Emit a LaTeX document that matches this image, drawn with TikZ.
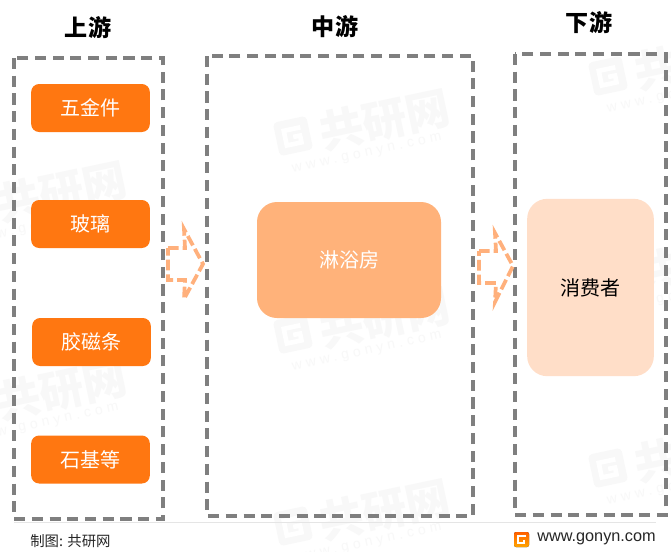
\documentclass[tikz,border=0pt]{standalone}
\usepackage{fontspec}
\setmainfont{Noto Sans CJK SC}
\newfontfamily\latinfont{Liberation Sans}
\newfontfamily\wmlatin[LetterSpace=30]{Liberation Sans}
\definecolor{dashgray}{HTML}{7F7F7F}
\definecolor{itemorange}{HTML}{FF7711}
\definecolor{midorange}{HTML}{FFB27A}
\definecolor{lightorange}{HTML}{FFDEC8}
\definecolor{arrowline}{HTML}{FFB07C}
\definecolor{wm}{HTML}{F8F8F8}
\tikzset{
  x=0.75pt,y=-0.75pt,
  stagebox/.style={draw=dashgray,line width=2.5pt,dash pattern=on 8.3pt off 5pt,fill=none},
  stagetitle/.style={font=\fontsize{17.3pt}{19pt}\selectfont\bfseries,text=black,inner sep=0pt},
  itembox/.style={fill=itemorange,rounded corners=6pt,minimum width=89pt,minimum height=36pt,inner sep=0pt,text=white,font=\fontsize{15pt}{17pt}\selectfont},
  flowarrow/.style={draw=arrowline,line width=2.8pt,dash pattern=on 8pt off 3pt,line join=miter,fill=none},
  wmmark/.style={text=wm,rotate=12,inner sep=0pt,font=\fontsize{33pt}{35pt}\selectfont\bfseries},
  wmurl/.style={text=wm,rotate=12,inner sep=0pt,font=\fontsize{10.5pt}{12pt}\selectfont\wmlatin},
}
\newcommand{\wmgroup}[3]{%
  \node[wmmark] (#3a) at (#1,#2) {共研网};
  \node[wmurl] (#3b) at (#1-18,#2+34) {www.gonyn.com};
  \fill[wm,rounded corners=3pt,shift={(#1-92,#2+16)},rotate=12] (-17,-17) rectangle (17,17);
  \draw[white,line width=3.5pt,shift={(#1-92,#2+16)},rotate=12] (9,-7) -- (-8,-7) -- (-8,8) -- (7,8) -- (7,1) -- (0,1);
}
\begin{document}
\begin{tikzpicture}
\useasboundingbox (0,0) rectangle (671,551);
\fill[white] (0,0) rectangle (671,551);
% watermarks
\wmgroup{385}{120}{wA}
\wmgroup{62}{192}{wB}
\wmgroup{385}{318}{wC}
\wmgroup{62}{390}{wD}
\wmgroup{385}{510}{wE}
\wmgroup{700}{60}{wF}
\wmgroup{700}{262}{wG}
\wmgroup{700}{452}{wH}
% stage frames
\draw[stagebox] (14,58) rectangle (163,519);
\draw[stagebox] (207,56) rectangle (473,516);
\draw[stagebox] (515,54) rectangle (666,515);
% titles
\node[stagetitle] (t1) at (88,28) {上游};
\node[stagetitle] (t2) at (335,27) {中游};
\node[stagetitle] (t3) at (589,23) {下游};
% items
\node[itembox] (i1) at (90.5,108) {五金件};
\node[itembox] (i2) at (90.5,224) {玻璃};
\node[itembox] (i3) at (91.5,342) {胶磁条};
\node[itembox] (i4) at (90.5,459.5) {石基等};
% middle and end
\node[fill=midorange,rounded corners=15pt,minimum width=138pt,minimum height=87pt,inner sep=0pt,text=white,font=\fontsize{15pt}{17pt}\selectfont] (m) at (349,260) {淋浴房};
\node[fill=lightorange,rounded corners=15pt,minimum width=95pt,minimum height=133pt,inner sep=0pt,text=black,font=\fontsize{15pt}{17pt}\selectfont] (e) at (590.5,287.5) {消费者};
% block arrows
\draw[flowarrow] (168,248) -- (185,248) -- (184,229) -- (203,264) -- (184,299) -- (185,280) -- (168,280) -- cycle;
\draw[flowarrow] (479,251) -- (496,251) -- (495,233) -- (513,266) -- (495,302) -- (496,283) -- (479,283) -- cycle;
% footer
\coordinate (fl) at (14,522.5);
\coordinate (fr) at (656,522.5);
\draw[line width=0.75pt,draw=black!10] (fl) -- (fr);
\node[anchor=west,inner sep=0pt,text=black!85,font=\fontsize{10.8pt}{12pt}\selectfont] (src) at (30,541) {制图: 共研网};
\node[anchor=west,inner sep=0pt,text=black!85,font=\fontsize{12.2pt}{14pt}\selectfont\latinfont] (url) at (537,539) {www.gonyn.com};
% logo
\fill[rounded corners=1.5pt,top color=orange!75!red,bottom color=orange!70!yellow] (514,532) rectangle (529,547);
\draw[white,line width=1.5pt] (526,536) -- (518,536) -- (518,543) -- (524,543) -- (524,540);
\end{tikzpicture}
\end{document}
